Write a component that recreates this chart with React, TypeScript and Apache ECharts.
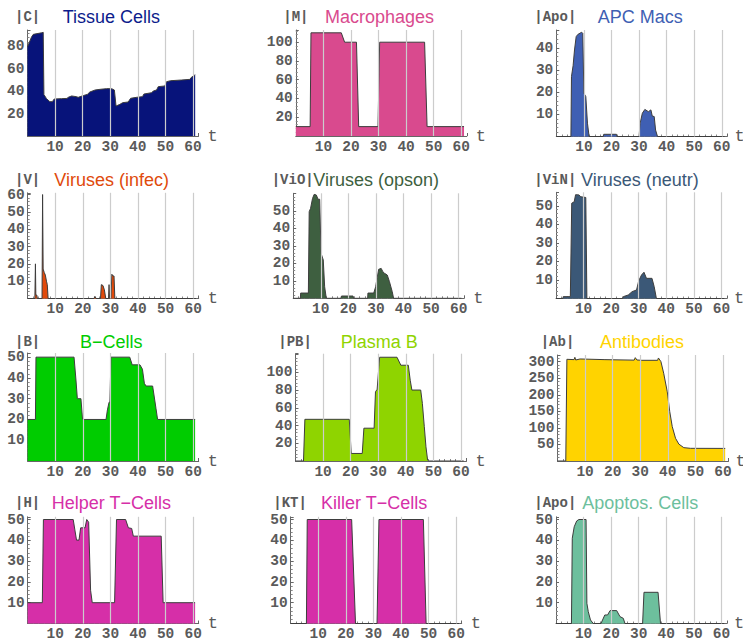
import React, { useEffect, useRef } from 'react';
import * as echarts from 'echarts';

// ---------- data ----------
const tissueT = [0, 1.5, 2.1, 5.1, 5.7, 5.95, 6.9, 8.1, 9.0, 9.7, 12.4, 14.3, 14.8, 16.0, 17.6, 18.4, 20.2, 21.7, 22.6, 24.5, 26.3, 28.7, 30.5, 31.5, 32.1, 33.5, 34.5, 36.5, 37.4, 39.6, 41.7, 42.2, 45.0, 45.6, 46.8, 47.4, 49.8, 50.4, 51.9, 55.9, 58.9, 59.4, 60.1, 60.8];
const tissueV = [79.6, 88.5, 90.6, 92, 92.4, 37, 33.3, 30.6, 30.6, 33, 33.3, 33.5, 34.5, 35.7, 35.1, 34.5, 36, 37.1, 39.2, 41, 41.6, 42.2, 42.2, 41, 26.7, 28.2, 29.7, 30.3, 33.6, 34.5, 35.1, 37.4, 38.6, 40.1, 41, 44, 44.6, 48.4, 49.3, 49.9, 50.5, 52.3, 53.5, 54.6];

const macroT = [0, 5.2, 5.5, 16.5, 17.7, 22.0, 22.8, 29.8, 30.4, 46.7, 47.6, 61];
const macroV = [10, 10, 110, 110, 100, 100, 10, 10, 100, 100, 10, 10];

const apcT = [0, 5.3, 5.5, 6.1, 6.6, 7.2, 7.8, 9.2, 9.6, 10.0, 10.7, 11.3, 11.9, 17.0, 17.2, 21.8, 22.0, 30.0, 30.4, 31.2, 32.1, 33.4, 34.3, 34.8, 35.5, 36.0, 36.7, 61];
const apcV = [0, 0, 27, 32, 39, 45, 46, 47, 46.5, 19.5, 18, 6, 0, 0, 1, 1, 0, 0, 6, 10.5, 12.2, 11.2, 12, 9.2, 9, 2.9, 0, 0];

const virInfT = [0, 2.6, 2.8, 2.95, 3.3, 3.5, 5.2, 5.4, 5.6, 6.0, 6.4, 6.8, 7.1, 7.4, 24.0, 24.4, 24.8, 26.4, 26.7, 27.3, 27.8, 28.3, 29.3, 29.5, 29.7, 30.2, 30.5, 30.9, 31.3, 31.6, 61];
const virInfV = [0, 0, 20, 2, 2, 0, 0, 60, 17, 15, 13.5, 10, 8, 0, 0, 1.2, 0, 0, 8, 7.5, 5, 0, 0, 8, 0, 0, 14, 13, 13, 0, 0];

const virOpsT = [0, 2.6, 2.7, 5.5, 5.8, 6.3, 7.0, 7.6, 8.4, 9.0, 9.6, 10.1, 10.9, 11.4, 12.0, 17.3, 17.5, 21.7, 21.9, 27.0, 27.1, 29.2, 29.9, 30.3, 31.0, 31.9, 32.5, 33.1, 34.1, 34.9, 35.9, 36.4, 61];
const virOpsV = [0, 0, 3, 3, 49.5, 51.4, 57, 59.4, 59, 56.6, 56.6, 25.7, 21.9, 6.6, 0, 0, 1.3, 1.3, 0, 0, 3, 3, 6.6, 10.5, 16.6, 17.1, 15.2, 14.3, 13.3, 9.5, 3.8, 0, 0];

const virNeuT = [0, 2.5, 2.6, 5.2, 5.7, 6.6, 7.1, 8.3, 9.0, 10.8, 11.2, 24.2, 24.4, 26.2, 27.6, 29.2, 30.0, 31.0, 31.9, 32.8, 34.8, 35.6, 36.4, 61];
const virNeuV = [0, 0, 1, 1, 51.5, 52.3, 56.1, 56, 55, 54.6, 0, 0, 1, 1.9, 3.7, 4.6, 9.6, 12.7, 14.2, 10.9, 10.9, 6.4, 0, 0];

const bCellT = [0, 2.8, 3.0, 16.8, 17.5, 18.0, 19.3, 19.9, 28.4, 28.9, 29.5, 29.8, 30.2, 37.0, 37.9, 40.7, 41.6, 42.3, 42.9, 45.3, 46.5, 47.1, 60.7];
const bCellV = [20, 20, 50, 50, 39, 30, 30, 20, 20, 24.6, 28.3, 28.3, 50, 50, 46.3, 46.3, 44.2, 37.4, 36.1, 36.1, 25.4, 20, 20];

const plasmaT = [0, 2.9, 3.4, 19.5, 20.2, 24.2, 24.8, 28.5, 29.0, 29.6, 30.5, 36.8, 38.2, 40.9, 41.6, 42.2, 45.4, 46.0, 46.7, 47.3, 47.9, 48.3, 61];
const plasmaV = [0, 0, 47, 47, 8.5, 8.5, 37, 37, 78, 80.8, 117, 117, 108, 108, 91, 80, 80, 65, 38.7, 16, 1, 0, 0];

const antiT = [0, 3.0, 3.4, 6.0, 6.3, 6.6, 8.2, 17.2, 27.8, 28.2, 28.8, 30.5, 36.3, 36.6, 37.5, 38.5, 39.8, 40.7, 41.6, 42.8, 44.0, 45.8, 48.2, 60.8];
const antiV = [0, 0, 307, 306, 313, 305, 308, 306, 304.5, 312, 305, 304, 304, 311, 300, 265, 209, 149, 104, 68.5, 51, 40.3, 38.3, 38];

const helperT = [0, 5.3, 5.7, 16.5, 17.1, 17.7, 18.6, 19.2, 20.8, 21.4, 22.1, 22.8, 23.4, 31.5, 32.2, 35.5, 36.5, 37.7, 38.3, 48.4, 49.1, 60.7];
const helperV = [10, 10, 50, 50, 45, 40.1, 40.1, 46, 46, 50, 48.7, 16, 10, 10, 50, 50, 46, 45.7, 42, 42, 10, 10];

const killerT = [0, 5.7, 6.0, 22.1, 23.5, 31.3, 32.0, 48.1, 49.1, 61];
const killerV = [0, 0, 50, 50, 0, 0, 50, 50, 0, 0];

const apoT = [0, 5.6, 5.9, 6.6, 7.5, 8.3, 10.9, 11.2, 11.7, 12.5, 13.5, 16.3, 17.7, 18.7, 19.6, 22.0, 23.2, 24.4, 25.0, 31.4, 31.9, 37.0, 37.9, 61];
const apoV = [0, 0, 41, 46.5, 49.3, 50, 50, 9.7, 5.7, 1.7, 0, 0, 4.1, 4.1, 6.2, 6.2, 3.3, 2.5, 0, 0, 15, 15, 0, 0];

const titles = ['Tissue Cells', 'Macrophages', 'APC Macs', 'Viruses (infec)', 'Viruses (opson)', 'Viruses (neutr)', 'B\u2212Cells', 'Plasma B', 'Antibodies', 'Helper T\u2212Cells', 'Killer T\u2212Cells', 'Apoptos. Cells'];
const symbols = ['|C|', '|M|', '|Apo|', '|V|', '|ViO|', '|ViN|', '|B|', '|PB|', '|Ab|', '|H|', '|KT|', '|Apo|'];
const xTicks = [10, 20, 30, 40, 50, 60];
const yMax = [94.5, 113, 48, 61, 60, 57.4, 52, 121, 320, 51.3, 51.3, 51.3];
const yStep = [20, 20, 10, 10, 10, 10, 10, 20, 50, 10, 10, 10];
const yTopLabel = [80, 100, 40, 60, 50, 50, 50, 100, 300, 50, 50, 50];

const seriesT = [tissueT, macroT, apcT, virInfT, virOpsT, virNeuT, bCellT, plasmaT, antiT, helperT, killerT, apoT];
const seriesV = [tissueV, macroV, apcV, virInfV, virOpsV, virNeuV, bCellV, plasmaV, antiV, helperV, killerV, apoV];

// ---------- styling / layout ----------
const fills = ['#07137a', '#d94a8e', '#3f5fb3', '#e04a0c', '#3e5f40', '#3b5877', '#00cc00', '#8fd400', '#ffd300', '#d62fa8', '#d62fa8', '#6dbf9d'];
const titleColors = ['#0c1c8c', '#d94a8e', '#3f5fb3', '#e04a0c', '#3e5f40', '#3b5877', '#00cc00', '#8fd400', '#ffd300', '#d62fa8', '#d62fa8', '#6dbf9d'];
const gridLeft = [27.5, 295.8, 556.3, 27.7, 293.2, 556, 27.7, 295.5, 557.5, 27.7, 290.7, 556];
const zeroY = [136, 136, 136.5, 298.5, 298.3, 298.5, 461, 461, 461, 623.5, 623.5, 623.5];
const gridH = [106, 106, 106.5, 105.7, 105, 106.2, 108, 107.3, 106, 106.7, 106.7, 106.7];
const labelLeft = [15, 283.3, 534.3, 15, 271.7, 534.3, 15, 278.3, 540.7, 15, 273.3, 534.3];
const titleLeft = [62.7, 325, 597.7, 54.3, 313.3, 581, 80, 340.7, 600, 51.7, 321, 582.3];
const nameGaps = [9, 9, 4, 9, 9, 4, 9, 9, 3, 9, 9, 4];
const rowY = [16.5, 180, 341.5, 503];
const X_MAX = 62;
const GRID_W = 171;

const MONO = '"Liberation Mono", "Courier New", monospace';
const SANS = '"Liberation Sans", Arial, Helvetica, sans-serif';
const AX = '#5a5a5a';

export default function App() {
  const ref = useRef<HTMLDivElement>(null);
  useEffect(() => {
    if (!ref.current) return;
    const chart = echarts.init(ref.current, undefined, { renderer: 'svg' });
    const idx = titles.map((_, i) => i);
    const option: any = {
      animation: false,
      backgroundColor: '#ffffff',
      grid: idx.map((i) => ({
        left: gridLeft[i],
        top: zeroY[i] - gridH[i],
        width: GRID_W,
        height: gridH[i],
        outerBoundsMode: 'none',
        containLabel: false,
      })),
      xAxis: idx.map((i) => ({
        type: 'value',
        gridIndex: i,
        min: 0,
        max: X_MAX,
        interval: 10,
        name: 't',
        nameLocation: 'end',
        nameGap: nameGaps[i],
        nameTextStyle: { fontFamily: MONO, fontSize: 17, color: AX, verticalAlign: 'middle', padding: [4, 0, 0, 0] },
        axisLine: { show: true, onZero: false, lineStyle: { color: '#666', width: 1 } },
        axisTick: { show: true, inside: true, length: 3, lineStyle: { color: '#666' } },
        minorTick: { show: true, splitNumber: 5, length: 2, lineStyle: { color: '#888' } },
        splitLine: { show: false },
        axisLabel: {
          margin: 3,
          fontFamily: MONO,
          fontSize: 14.5,
          fontWeight: 'bold',
          color: AX,
          formatter: (v: number) => (v > 0 && v % 10 === 0 && v <= 60 ? String(v) : ''),
        },
      })),
      yAxis: idx.map((i) => ({
        type: 'value',
        gridIndex: i,
        min: 0,
        max: yMax[i],
        interval: yStep[i],
        axisLine: { show: true, onZero: false, lineStyle: { color: '#666', width: 1 } },
        axisTick: { show: true, inside: true, length: 3, lineStyle: { color: '#666' } },
        minorTick: { show: true, splitNumber: 5, length: 2, lineStyle: { color: '#888' } },
        splitLine: { show: false },
        axisLabel: {
          margin: 3,
          fontFamily: MONO,
          fontSize: 14.5,
          fontWeight: 'bold',
          color: AX,
          formatter: (v: number) => (v > 0 && v % yStep[i] === 0 && v <= yTopLabel[i] ? String(v) : ''),
        },
      })),
      series: idx.map((i) => ({
        type: 'line',
        xAxisIndex: i,
        yAxisIndex: i,
        data: seriesT[i].map((t, j) => [t, seriesV[i][j]]),
        symbol: 'none',
        showSymbol: false,
        silent: true,
        lineStyle: { color: '#3d3d3d', width: 1 },
        areaStyle: { color: fills[i], opacity: 1 },
        markLine: {
          silent: true,
          symbol: ['none', 'none'],
          label: { show: false },
          lineStyle: { color: '#cccccc', width: 1.2, type: 'solid' },
          data: xTicks.map((x) => ({ xAxis: x })),
        },
      })),
      graphic: idx.flatMap((i) => [
        {
          type: 'text',
          x: labelLeft[i],
          y: rowY[Math.floor(i / 3)],
          silent: true,
          style: { text: symbols[i], fill: AX, font: `bold 14px ${MONO}`, align: 'left', verticalAlign: 'middle' },
        },
        {
          type: 'text',
          x: titleLeft[i],
          y: rowY[Math.floor(i / 3)],
          silent: true,
          style: { text: titles[i], fill: titleColors[i], font: `18px ${SANS}`, align: 'left', verticalAlign: 'middle' },
        },
      ]),
    };
    chart.setOption(option);
    return () => chart.dispose();
  }, []);
  return <div ref={ref} style={{ position: 'absolute', left: 0, top: 0, width: 743, height: 640 }} />;
}
